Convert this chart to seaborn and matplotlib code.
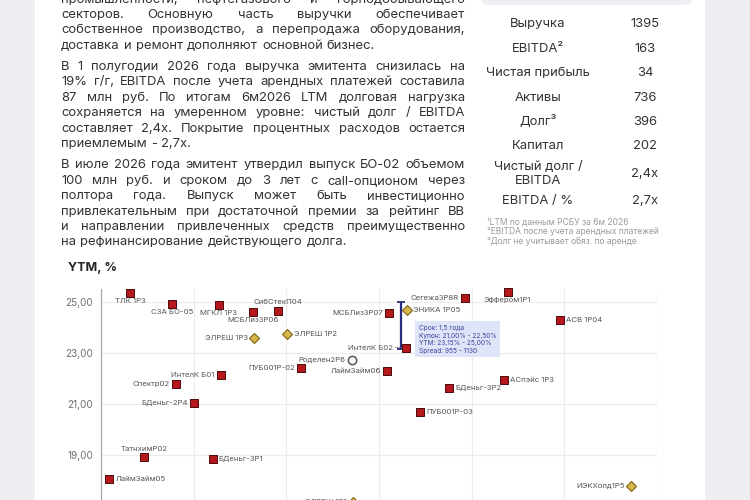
import matplotlib
matplotlib.use("Agg")
import matplotlib.pyplot as plt
import matplotlib.transforms as mtransforms
from matplotlib.patches import Rectangle, FancyBboxPatch
import seaborn as sns
import pandas as pd

# ---------------- data ----------------
sq_names = ["ТЛК 1Р3", "СЗА БО-05", "МГКЛ 1Р3", "МСБЛиз3Р06", "СибСтекП04", "МСБЛиз3Р07",
            "Сегежа3Р8R", "Эффером1Р1", "АСВ 1Р04", "ИнтелК Б02", "ПУБ001Р-02", "ЛаймЗайм06",
            "ИнтелК Б01", "Спектр02", "БДеньг-2Р4", "АСпэйс 1Р3", "БДеньг-3Р2", "ПУБ001Р-03",
            "ТатнхимР02", "БДеньг-3Р1", "ЛаймЗайм05"]
sq_dur = [0.578, 0.691, 0.817, 0.909, 0.978, 1.277, 1.481, 1.597, 1.737, 1.323, 1.040, 1.272,
          0.823, 0.702, 0.750, 1.586, 1.438, 1.360, 0.616, 0.801, 0.522]
sq_ytm = [25.35, 24.92, 24.88, 24.61, 24.65, 24.57, 25.16, 25.39, 24.29, 23.20, 22.41, 22.29,
          22.14, 21.78, 21.04, 21.94, 21.63, 20.69, 18.92, 18.84, 18.06]

dia_names = ["ЭЛРЕШ 1Р3", "ЭЛРЕШ 1Р2", "ЭНИКА 1Р05", "ИЭКХолд1Р5", "ЭЛРЕШ 1Р1"]
dia_dur = [0.914, 1.003, 1.325, 1.930, 1.180]
dia_ytm = [23.59, 23.75, 24.69, 17.78, 17.16]

circ_names = ["Роделен2Р6"]
circ_dur = [1.177]
circ_ytm = [22.73]

range_name = "ИнтелК Б02"
range_ytm = [23.15, 25.00]
info_lines = ["Срок: 1,5 года", "Купон: 21,00% - 22,50%", "YTM: 23,15% - 25,00%", "Spread: 955 - 1130"]

y_ticks = [19, 21, 23, 25]
x_grid = [0.5, 0.75, 1.0, 1.25, 1.5, 1.75, 2.0]

table_labels = ["Выручка", "EBITDA²", "Чистая прибыль", "Активы", "Долг³", "Капитал",
                "Чистый долг /\nEBITDA", "EBITDA / %"]
table_values = ["1395", "163", "34", "736", "396", "202", "2,4х", "2,7х"]
footnotes = ["¹LTM по данным РСБУ за 6м 2026", "²EBITDA после учета арендных платежей",
             "³Долг не учитывает обяз. по аренде"]

paragraphs = [
    ["промышленности,   нефтегазового   и   горнодобывающего",
     "секторов. Основную часть выручки обеспечивает",
     "собственное производство, а перепродажа оборудования,",
     "доставка и ремонт дополняют основной бизнес."],
    ["В 1 полугодии 2026 года выручка эмитента снизилась на",
     "19% г/г, EBITDA после учета арендных платежей составила",
     "87 млн руб. По итогам 6м2026 LTM долговая нагрузка",
     "сохраняется на умеренном уровне: чистый долг / EBITDA",
     "составляет 2,4х. Покрытие процентных расходов остается",
     "приемлемым - 2,7х."],
    ["В июле 2026 года эмитент утвердил выпуск БО-02 объемом",
     "100 млн руб. и сроком до 3 лет с call-опционом через",
     "полтора года. Выпуск может быть инвестиционно",
     "привлекательным при достаточной премии за рейтинг ВВ",
     "и направлении привлеченных средств преимущественно",
     "на рефинансирование действующего долга."],
]

label_pos = {
    "ТЛК 1Р3": "below", "СЗА БО-05": "below", "МГКЛ 1Р3": "below", "МСБЛиз3Р06": "below",
    "СибСтекП04": "above", "Эффером1Р1": "below", "ТатнхимР02": "above",
    "АСВ 1Р04": "right", "АСпэйс 1Р3": "right", "БДеньг-3Р2": "right", "ПУБ001Р-03": "right",
    "БДеньг-3Р1": "right", "ЛаймЗайм05": "right", "ЭЛРЕШ 1Р2": "right", "ЭНИКА 1Р05": "right",
}

# ---------------- figure ----------------
sns.set_theme(style="white")
FONT = ["Inter", "DejaVu Sans"]
plt.rcParams["font.family"] = FONT

W, H = 750, 500
fig = plt.figure(figsize=(7.5, 5), dpi=100)
fig.patch.set_facecolor("#eeeef3")

def fx(x):
    return x / W

def fy(y):
    return 1 - y / H

# white page
fig.add_artist(Rectangle((fx(35), 0), fx(705) - fx(35), 1, transform=fig.transFigure,
                         facecolor="white", edgecolor="none", zorder=0))
# grey box top right
fig.add_artist(FancyBboxPatch((fx(481), fy(5)), fx(692) - fx(481), 0.05,
                              boxstyle="round,pad=0,rounding_size=0.012",
                              transform=fig.transFigure, facecolor="#f0f0f4",
                              edgecolor="none", zorder=1))

renderer = fig.canvas.get_renderer()
TXT = "#333333"
PFS = 9.4

def text_width(s, fs):
    t = fig.text(0, 0, s, fontsize=fs)
    w = t.get_window_extent(renderer).width
    t.remove()
    return w

space_w = text_width("a a", PFS) - text_width("aa", PFS)

def put_line(line, x0, x1, yc, justify):
    words = line.split()
    objs = [fig.text(0, 0, w, fontsize=PFS, color=TXT, va="center", ha="left") for w in words]
    widths = [o.get_window_extent(renderer).width for o in objs]
    if justify and len(words) > 1:
        gap = (x1 - x0 - sum(widths)) / (len(words) - 1)
    else:
        gap = space_w * 1.15
    x = x0
    for o, w in zip(objs, widths):
        o.set_position((fx(x), fy(yc)))
        x += w + gap

y = -0.5
pitch = 15.45
for pi, para in enumerate(paragraphs):
    for li, line in enumerate(para):
        put_line(line, 61, 465, y, li < len(para) - 1)
        y += pitch
    y += 5.6

# table
row_y = [24.3, 49, 72.7, 97.7, 121.7, 146, 174, 201]
for lab, val, ry in zip(table_labels, table_values, row_y):
    fig.text(fx(538), fy(ry), lab, fontsize=9.4, color=TXT, ha="center", va="center",
             linespacing=1.3, multialignment="center")
    fig.text(fx(645), fy(ry), val, fontsize=9.4, color=TXT, ha="center", va="center")
for i, fn in enumerate(footnotes):
    fig.text(fx(487), fy(222 + i * 9.6), fn, fontsize=6.1, color="#9a9a9a", ha="left", va="center")

fig.text(fx(68), fy(268), "YTM, %", fontsize=9.0, fontweight="bold", color="#222222",
         ha="left", va="center")

# ---------------- chart ----------------
ax = fig.add_axes([fx(101), 1 - 557 / H, fx(657) - fx(101), 268 / H])
ax.set_facecolor("none")

df_sq = pd.DataFrame({"name": sq_names, "dur": sq_dur, "ytm": sq_ytm})
df_dia = pd.DataFrame({"name": dia_names, "dur": dia_dur, "ytm": dia_ytm})
df_circ = pd.DataFrame({"name": circ_names, "dur": circ_dur, "ytm": circ_ytm})

# range line for new issue
ri = sq_names.index(range_name)
shift = mtransforms.ScaledTranslation(-5 / 100, 0, fig.dpi_scale_trans)
ax.plot([sq_dur[ri], sq_dur[ri]], range_ytm, color="#272c7c", lw=1.6,
        transform=ax.transData + shift, zorder=3, solid_capstyle="butt")
ax.plot([sq_dur[ri], sq_dur[ri]], range_ytm, ls="none", marker="_", ms=6, mew=1.3,
        color="#272c7c", transform=ax.transData + shift, zorder=3)

sns.scatterplot(data=df_sq, x="dur", y="ytm", marker="s", s=34, color="#b5181c",
                edgecolor="#4d0a0a", linewidth=0.7, ax=ax, zorder=5, clip_on=False)
sns.scatterplot(data=df_dia, x="dur", y="ytm", marker="D", s=26, color="#d9b54a",
                edgecolor="#7d6418", linewidth=0.8, ax=ax, zorder=5, clip_on=False)
sns.scatterplot(data=df_circ, x="dur", y="ytm", marker="o", s=36, color="white",
                edgecolor="#555555", linewidth=1.1, ax=ax, zorder=5, clip_on=False)

LFS = 5.6
LCOL = "#555555"
for df in (df_sq, df_dia, df_circ):
    for name, xv, yv in zip(df["name"], df["dur"], df["ytm"]):
        pos = label_pos.get(name, "left")
        text = name
        if name == range_name:
            text = name + " —"
        if pos == "left":
            off, ha, va = (-4.5 if name != range_name else -2.5, 0), "right", "center"
        elif pos == "right":
            off, ha, va = (4.5, 0), "left", "center"
        elif pos == "below":
            off, ha, va = (0, -6.2), "center", "center"
        else:
            off, ha, va = (0, 6.0), "center", "center"
        ax.annotate(text, (xv, yv), xytext=off, textcoords="offset points", ha=ha, va=va,
                    fontsize=LFS, color=LCOL, annotation_clip=False, zorder=6)

# info tooltip
ax.annotate("\n".join(info_lines), (sq_dur[ri], sq_ytm[ri]), xytext=(9.0, 16.5),
            textcoords="offset points", ha="left", va="top", fontsize=4.7, color="#3b3f9c",
            linespacing=1.32,
            bbox=dict(boxstyle="square,pad=0.55", facecolor="#dfe5f8", edgecolor="none"),
            zorder=7, annotation_clip=False)

ax.set_xlim(0.5, 2.0)
ax.set_ylim(15, 25.5)
ax.set_xticks(x_grid)
ax.set_xticklabels([])
ax.set_yticks(y_ticks)
ax.set_yticklabels([f"{v:.2f}".replace(".", ",") for v in y_ticks])
ax.tick_params(axis="y", length=0, pad=5.5, labelsize=7.2, labelcolor="#707070")
ax.tick_params(axis="x", length=0)
ax.grid(True, color="#ececec", lw=0.8, zorder=0)
ax.set_axisbelow(True)
for s in ["top", "right", "bottom"]:
    ax.spines[s].set_visible(False)
ax.spines["left"].set_color("#a8a8a8")
ax.spines["left"].set_linewidth(0.9)
ax.set_xlabel("")
ax.set_ylabel("")

fig.savefig("out.png", dpi=100)
